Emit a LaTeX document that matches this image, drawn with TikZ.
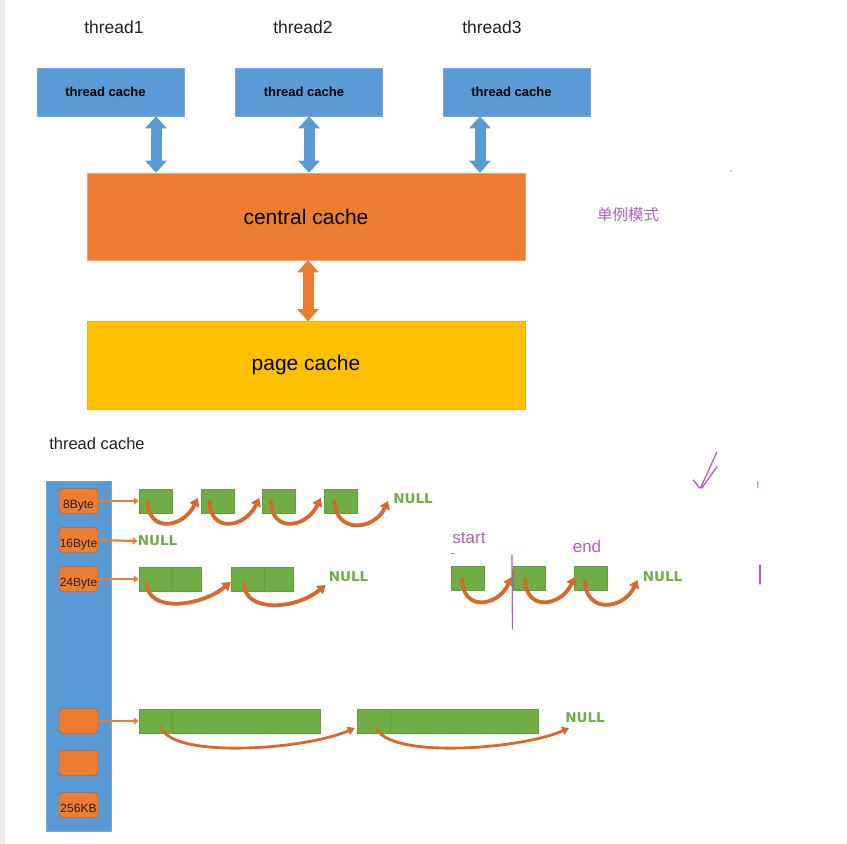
\documentclass[tikz,border=0pt]{standalone}
\usepackage{fontspec}
\setmainfont{Liberation Sans}
\newfontfamily\cjk{Noto Sans CJK SC}
\newfontfamily\nullfnt{DejaVu Sans}
\usetikzlibrary{arrows.meta}
\definecolor{tblue}{HTML}{5B9BD5}
\definecolor{torange}{HTML}{ED7D31}
\definecolor{tdark}{HTML}{D9692A}
\definecolor{tyellow}{HTML}{FFC000}
\definecolor{tgreen}{HTML}{70AD47}
\definecolor{tgreenline}{HTML}{62A03C}
\definecolor{tpurple}{HTML}{B260BE}
\definecolor{ttext}{HTML}{222222}
\begin{document}
\begin{tikzpicture}[x=1pt,y=-1pt,
  lbl/.style={inner sep=0pt,text=ttext,font=\fontsize{17.5}{20}\selectfont},
  tcbox/.style={fill=tblue,draw=tblue!85!white,line width=0.6pt,minimum width=147,minimum height=48,inner sep=0pt,
     font=\bfseries\fontsize{13}{15}\selectfont,text=black},
  bigbox/.style={minimum width=438,minimum height=87,inner sep=0pt,line width=0.6pt,
     font=\fontsize{21}{24}\selectfont,text=black},
  bigarrow/.style={line width=11pt,draw=#1,{Triangle[width=21pt,length=12pt]}-{Triangle[width=21pt,length=12pt]}},
  sizebox/.style={fill=torange,draw=tdark!80!black,line width=0.4pt,rounded corners=3.5pt,minimum width=39,minimum height=25,
     inner sep=0pt,text=ttext,text height=15pt,text depth=0pt,font=\fontsize{12}{13}\selectfont},
  blk/.style={fill=tgreen,draw=tgreenline,line width=0.5pt,minimum height=24,inner sep=0pt},
  nulltxt/.style={inner sep=0pt,text=tgreen,font=\nullfnt\bfseries\fontsize{13.5}{15}\selectfont},
  smallarr/.style={draw=torange,line width=2.2pt,-{Triangle[width=7pt,length=5pt]}},
  curv/.style={draw=tdark,line width=3.8pt,-{Triangle[width=10.5pt,length=8pt]}},
  longcurv/.style={draw=tdark,line width=2.8pt,-{Triangle[width=8.5pt,length=7pt]}},
  pen/.style={draw=tpurple,line width=1.3pt,line cap=round,line join=round},
  ptxt/.style={inner sep=0pt,text=tpurple,font=\fontsize{17}{20}\selectfont}
]
\useasboundingbox (0,0) rectangle (847,844);
\fill[white] (0,0) rectangle (847,844);
\fill[black!7] (0,0) rectangle (5,844);

% ---------- top part ----------
\node[lbl] (t1) at (114,27) {thread1};
\node[lbl] (t2) at (303,27) {thread2};
\node[lbl] (t3) at (492,27) {thread3};

\node[tcbox] (tc1) at (110.5,92) {thread cache\hspace*{10pt}};
\node[tcbox] (tc2) at (309,92) {thread cache\hspace*{10pt}};
\node[tcbox] (tc3) at (516.5,92) {thread cache\hspace*{10pt}};

\node[bigbox,fill=torange,draw=torange!70!white] (cc) at (306,216.5) {central cache};
\node[bigbox,fill=tyellow,draw=tyellow!70!orange,minimum height=88] (pc) at (306,365.5) {\raisebox{3pt}{page cache}};

\draw[bigarrow=tblue] ([xshift=45.5pt]tc1.south) -- ([xshift=45.5pt]tc1.south |- cc.north);
\draw[bigarrow=tblue] ([xshift=0pt]tc2.south) -- ([xshift=0pt]tc2.south |- cc.north);
\draw[bigarrow=tblue] ([xshift=-36.5pt]tc3.south) -- ([xshift=-36.5pt]tc3.south |- cc.north);
\draw[bigarrow=torange] ([xshift=2pt]cc.south) -- ([xshift=2pt]cc.south |- pc.north);

\node[inner sep=0pt,text=tpurple,font=\cjk\fontsize{15.5}{18}\selectfont] (single) at (628,215) {单例模式};

% ---------- lower part ----------
\node[lbl,font=\fontsize{16.5}{19}\selectfont] (tclabel) at (97,444) {thread cache};

\node[fill=tblue,draw=tblue!85!white,line width=0.5pt,minimum width=65,minimum height=350,inner sep=0pt] (bar) at (78.5,656) {};

\node[sizebox] (s8) at (78.5,501) {8Byte};
\node[sizebox] (s16) at (78.5,540) {16Byte};
\node[sizebox] (s24) at (78.5,579) {24Byte};
\node[sizebox] (sb1) at (78.5,721) {};
\node[sizebox] (sb2) at (78.5,763) {};
\node[sizebox] (s256) at (78.5,805) {256KB};

% row 8Byte
\node[blk,minimum width=33] (r1a) at (155.5,501) {};
\node[blk,minimum width=33] (r1b) at (217.5,501) {};
\node[blk,minimum width=33] (r1c) at (279,501) {};
\node[blk,minimum width=33] (r1d) at (340.5,501) {};
\node[nulltxt] (null1) at (413,499) {NULL};
\draw[smallarr] (s8.east) -- (r1a.west);
\draw[curv] ([xshift=-8pt,yshift=1pt]r1a.center) .. controls +(0,34) and +(-14,30) .. ([xshift=-3pt,yshift=3pt]r1b.west);
\draw[curv] ([xshift=-8pt,yshift=1pt]r1b.center) .. controls +(0,34) and +(-14,30) .. ([xshift=-3pt,yshift=3pt]r1c.west);
\draw[curv] ([xshift=-8pt,yshift=1pt]r1c.center) .. controls +(0,34) and +(-14,30) .. ([xshift=-3pt,yshift=3pt]r1d.west);
\draw[curv] ([xshift=-6pt,yshift=1pt]r1d.center) .. controls +(0,34) and +(-14,30) .. ([xshift=-5pt,yshift=-2pt]null1.west);

% row 16Byte
\node[nulltxt] (null16) at (157.5,541) {NULL};
\draw[smallarr] (s16.east) -- (null16.west);

% row 24Byte
\node[blk,minimum width=33] (r3a) at (155.5,579) {};
\node[blk,minimum width=29] (r3b) at (186.5,579) {};
\node[blk,minimum width=33] (r3c) at (247.5,579) {};
\node[blk,minimum width=29] (r3d) at (278.5,579) {};
\node[nulltxt] (null3) at (348.5,577) {NULL};
\draw[smallarr] (s24.east) -- (r3a.west);
\draw[curv] ([xshift=-8.5pt,yshift=-4pt]r3a.center) .. controls +(0,30) and +(-30,25) .. ([yshift=-3pt]r3c.west);
\draw[curv] ([xshift=-3.5pt,yshift=-4pt]r3c.center) .. controls +(0,30) and +(-30,25) .. ([xshift=-3pt,yshift=-8pt]null3.west);

% start / end row
\node[blk,minimum width=33] (ra) at (467.5,578) {};
\node[blk,minimum width=32] (rb) at (529,578) {};
\node[blk,minimum width=33] (rc) at (590.5,578) {};
\node[nulltxt] (nullr) at (662.5,577) {NULL};
\node[ptxt] (start) at (469,538) {start};
\node[ptxt] (endl) at (587,546) {end};
\draw[curv] ([xshift=-5.5pt]ra.center) .. controls +(0,34) and +(-14,30) .. ([xshift=-1pt,yshift=1pt]rb.west);
\draw[curv] ([xshift=-4pt]rb.center) .. controls +(0,34) and +(-14,30) .. ([xshift=1pt,yshift=1pt]rc.west);
\draw[curv] ([xshift=-5.5pt,yshift=-2pt]rc.center) .. controls +(0,34) and +(-14,30) .. ([xshift=-5pt,yshift=-3pt]nullr.west);

% large blocks row
\node[blk,minimum width=33] (r4a) at (155.5,721) {};
\node[blk,minimum width=148] (r4b) at (246,721) {};
\node[blk,minimum width=33] (r4c) at (373.5,721) {};
\node[blk,minimum width=148] (r4d) at (464,721) {};
\node[nulltxt] (null4) at (585,718) {NULL};
\draw[smallarr] (sb1.east) -- (r4a.west);
\draw[longcurv] ([xshift=5.5pt,yshift=-6pt]r4a.center) .. controls +(10,32) and +(-50,22) .. ([xshift=-2pt,yshift=-7pt]r4c.west);
\draw[longcurv] ([xshift=2.5pt,yshift=-6pt]r4c.center) .. controls +(10,32) and +(-50,22) .. ([xshift=4pt,yshift=-10pt]null4.west);

% handwritten purple marks
\draw[pen] (512,555) -- (512.5,629);
\draw[pen,line width=0.8pt] (451.5,553) -- (454,553);
\draw[pen] (716.7,452.3) -- (700.7,487.7);
\draw[pen] (717,466.7) -- (702.7,486.7);
\draw[pen] (693.3,480) -- (699.3,487.7) -- (703,487.7);
\draw[pen,line width=1pt] (757.7,482) -- (758,487.7);
\draw[pen] (760,565) -- (760,584);
\fill[tblue!70!cyan] (731,171) circle (0.8);
\end{tikzpicture}
\end{document}
